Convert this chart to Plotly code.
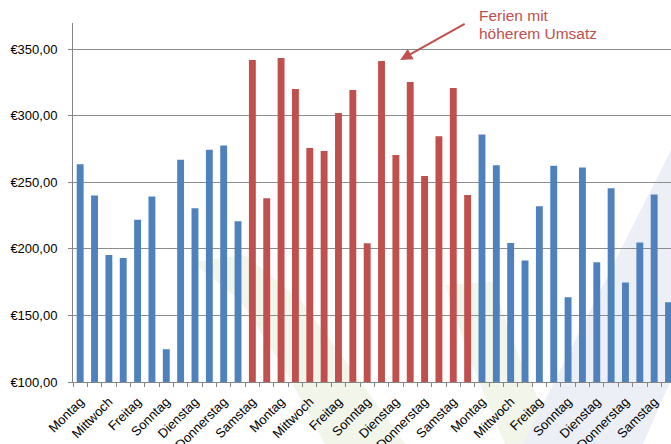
import plotly.graph_objects as go

days_cycle = ["Montag", "Dienstag", "Mittwoch", "Donnerstag", "Freitag", "Samstag", "Sonntag"]

values = [263.5, 240.2, 195.5, 193.2, 221.8, 239.4, 124.6, 266.9, 230.6, 274.4, 277.7, 220.8,
          341.9, 238.1, 343.4, 320.1, 275.7, 273.5, 302.0, 319.3, 204.3, 341.1, 270.5, 325.3,
          254.7, 284.7, 320.8, 240.4,
          286.0, 262.9, 204.5, 191.3, 232.1, 262.4, 163.7, 261.2, 190.0, 245.6, 174.7, 204.8,
          240.9, 159.9]
holiday = [0] * 12 + [1] * 16 + [0] * 14

day_names = [days_cycle[i % 7] for i in range(len(values))]
x_idx = list(range(len(values)))
tick_idx = x_idx[::2]
tick_text = day_names[::2]

y_ticks = [100, 150, 200, 250, 300, 350]
y_text = ["€100,00", "€150,00", "€200,00", "€250,00", "€300,00", "€350,00"]

BLUE = "#4F81BD"
RED = "#C0504D"
colors = [RED if h else BLUE for h in holiday]

W, H = 671, 444
ML, MR, MT, MB = 73, 0, 23, 62
PW, PH = W - ML - MR, H - MT - MB


def px(x, y):
    return (x - ML) / PW, (H - MB - y) / PH


def poly(points, color):
    pts = [px(a, b) for a, b in points]
    path = "M " + " L ".join(f"{a:.4f},{b:.4f}" for a, b in pts) + " Z"
    return dict(type="path", xref="paper", yref="paper", path=path,
                fillcolor=color, line=dict(width=0), layer="below")


fig = go.Figure()
fig.add_trace(go.Bar(x=x_idx, y=values, marker=dict(color=colors, line=dict(width=0)),
                     hovertext=day_names, showlegend=False))

shapes = [
    poly([(192, 262), (245, 255), (300, 300), (345, 360), (405, 444), (325, 444), (285, 370), (240, 300)],
         "#f1f5ea"),
    poly([(445, 285), (492, 282), (520, 360), (560, 444), (505, 444), (470, 360)],
         "#f1f5ea"),
    poly([(523, 444), (671, 150), (671, 380), (643, 444)], "#eceff6"),
]

fig.update_layout(
    width=W, height=H,
    margin=dict(l=ML, r=MR, t=MT, b=MB, pad=0, autoexpand=False),
    paper_bgcolor="white", plot_bgcolor="rgba(0,0,0,0)",
    bargap=0.52,
    font=dict(family="Liberation Sans, Arial, sans-serif", size=13, color="#000000"),
    shapes=shapes,
    xaxis=dict(
        range=[-0.5, -0.5 + PW / 14.35],
        tickmode="array", tickvals=tick_idx, ticktext=tick_text,
        tickangle=-45, ticks="", showgrid=False,
        showline=True, linecolor="#868686", linewidth=1,
        ticklabelstandoff=6, automargin=False,
        tickfont=dict(size=13),
        minor=dict(ticks="outside", tick0=0.5, dtick=1, ticklen=4, tickcolor="#868686", showgrid=False),
        zeroline=False,
    ),
    yaxis=dict(
        range=[100, 369.7],
        tickmode="array", tickvals=y_ticks, ticktext=y_text,
        ticks="outside", ticklen=4, tickcolor="#868686",
        showgrid=True, gridcolor="#8C8C8C", gridwidth=1,
        showline=True, linecolor="#868686", linewidth=1,
        ticklabelstandoff=8, automargin=False,
        tickfont=dict(size=13),
        zeroline=False,
    ),
    annotations=[
        dict(xref="paper", yref="paper", x=px(477, 0)[0], y=px(0, 5)[1], xanchor="left", yanchor="top",
             text="Ferien mit", showarrow=False, font=dict(size=15.5, color=RED)),
        dict(xref="paper", yref="paper", x=px(477, 0)[0], y=px(0, 23)[1], xanchor="left", yanchor="top",
             text="höherem Umsatz", showarrow=False, font=dict(size=15.5, color=RED)),
        dict(x=22.3, y=341.9, xref="x", yref="y", text="", showarrow=True,
             arrowhead=2, arrowsize=1.2, arrowwidth=2, arrowcolor=RED, ax=66, ay=-37, standoff=0),
    ],
)

fig.write_html("out.html")
